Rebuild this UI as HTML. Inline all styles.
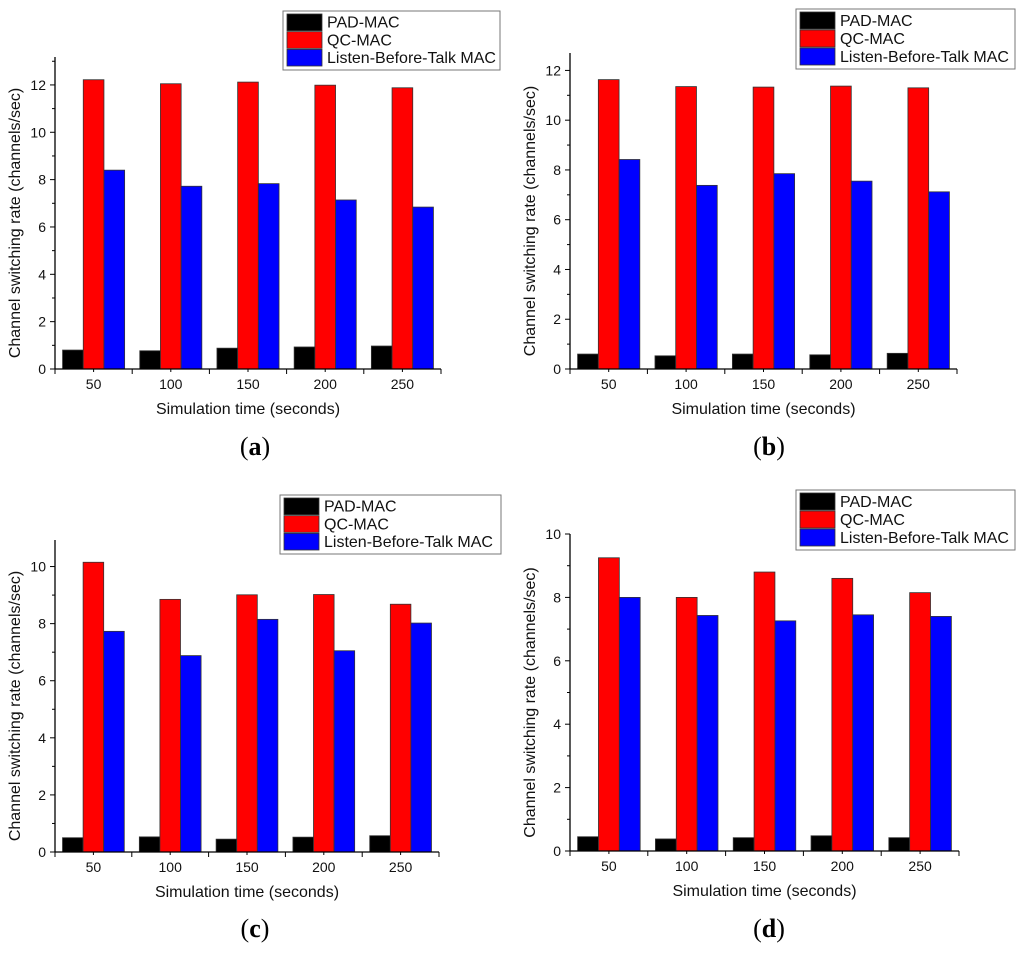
<!DOCTYPE html>
<html><head><meta charset="utf-8"><style>
html,body{margin:0;padding:0;background:#fff;}
svg{display:block;font-family:"Liberation Sans",Arial,sans-serif;}
</style></head><body>
<svg id="fig" width="1024" height="955" viewBox="0 0 1024 955" xmlns="http://www.w3.org/2000/svg"></svg>
<script>
const categories = ["50","100","150","200","250"];
const seriesNames = ["PAD-MAC","QC-MAC","Listen-Before-Talk MAC"];
const seriesColors = ["#000000","#ff0000","#0000ff"];
const padA = [0.80,0.77,0.88,0.93,0.97];
const qcA  = [12.22,12.05,12.12,11.99,11.88];
const lbtA = [8.40,7.72,7.83,7.14,6.84];
const padB = [0.60,0.53,0.60,0.57,0.63];
const qcB  = [11.63,11.35,11.33,11.37,11.30];
const lbtB = [8.42,7.38,7.85,7.55,7.12];
const padC = [0.50,0.53,0.45,0.52,0.57];
const qcC  = [10.15,8.85,9.01,9.02,8.68];
const lbtC = [7.73,6.88,8.15,7.05,8.02];
const padD = [0.45,0.38,0.42,0.48,0.42];
const qcD  = [9.25,8.00,8.80,8.60,8.15];
const lbtD = [8.00,7.43,7.26,7.45,7.40];
const ticksAB = [0,2,4,6,8,10,12];
const ticksCD = [0,2,4,6,8,10];
const panelLabels = ["a","b","c","d"];

const NS="http://www.w3.org/2000/svg";
const svg=document.getElementById('fig');
function mk(tag,attrs,parent){const e=document.createElementNS(NS,tag);for(const k in attrs)e.setAttribute(k,attrs[k]);(parent||svg).appendChild(e);return e;}

const panels=[
 {series:[padA,qcA,lbtA],ticks:ticksAB,x0:55,x1:441,y0:369,top:57,ymax:13.18,lg:[283,11,217,59],cap:[255,455]},
 {series:[padB,qcB,lbtB],ticks:ticksAB,x0:570,x1:957,y0:369,top:53,ymax:12.7,lg:[796,9,219,60],cap:[769,455]},
 {series:[padC,qcC,lbtC],ticks:ticksCD,x0:55,x1:439,y0:852,top:540,ymax:10.93,lg:[280,495,221,59],cap:[255,937]},
 {series:[padD,qcD,lbtD],ticks:ticksCD,x0:570,x1:959,y0:851,top:534,ymax:10,lg:[796,490,219,60],cap:[769,937]}
];

panels.forEach((p,pi)=>{
 const g=mk('g',{});
 
 
 const yS=v=>p.y0-(v/p.ymax)*(p.y0-p.top);
 const band=(p.x1-p.x0)/categories.length;
 const bw=band*0.268;
 const xS=(i,s)=>p.x0+band*i+band/2+(s-1.5)*bw;
 p.series.forEach((vals,s)=>{
  vals.forEach((v,i)=>{
   const r=mk('rect',{x:xS(i,s),y:yS(v),width:bw,height:p.y0-yS(v),fill:seriesColors[s],stroke:'#333','stroke-width':0.8},g);
   
   
  });
 });
 const ya=mk('line',{x1:p.x0,y1:p.top,x2:p.x0,y2:p.y0,stroke:'#000','stroke-width':1.3},g);
 
 const xa=mk('line',{x1:p.x0,y1:p.y0,x2:p.x1,y2:p.y0,stroke:'#000','stroke-width':1.3},g);
 
 p.ticks.forEach((t,k)=>{
  mk('line',{x1:p.x0-5,y1:yS(t),x2:p.x0,y2:yS(t),stroke:'#000','stroke-width':1},g);
  const mid=t+1;
  if(mid<p.ymax) mk('line',{x1:p.x0-3,y1:yS(mid),x2:p.x0,y2:yS(mid),stroke:'#000','stroke-width':1},g);
  const tl=mk('text',{x:p.x0-9,y:yS(t)+5,'text-anchor':'end','font-size':14,fill:'#111'},g);
  tl.textContent=t;
  
 });
 for(let i=0;i<=categories.length;i++){
  const x=p.x0+band*i;
  mk('line',{x1:x,y1:p.y0,x2:x,y2:p.y0+5,stroke:'#000','stroke-width':1},g);
  if(i<categories.length){
   mk('line',{x1:x+band/2,y1:p.y0,x2:x+band/2,y2:p.y0+3,stroke:'#000','stroke-width':1},g);
   const tl=mk('text',{x:x+band/2,y:p.y0+20,'text-anchor':'middle','font-size':14,fill:'#111'},g);
   tl.textContent=categories[i];
   
  }
 }
 const xt=mk('text',{x:(p.x0+p.x1)/2,y:p.y0+45,'text-anchor':'middle','font-size':16,fill:'#111'},g);
 xt.textContent='Simulation time (seconds)';
 
 const yc=(p.top+p.y0)/2+10, yx=p.x0-35;
 const yt=mk('text',{x:yx,y:yc,'text-anchor':'middle','font-size':16,fill:'#111',transform:`rotate(-90 ${yx} ${yc})`},g);
 yt.textContent='Channel switching rate (channels/sec)';
 
 const [lx,ly,lw,lh]=p.lg;
 const lgG=mk('g',{},g);
 
 mk('rect',{x:lx,y:ly,width:lw,height:lh,fill:'#fff',stroke:'#777','stroke-width':1},lgG);
 const rh=(lh-6)/3;
 seriesNames.forEach((n,s)=>{
  const e=mk('g',{},lgG);
  
  mk('rect',{x:lx+4,y:ly+3+s*rh,width:35,height:rh-1,fill:seriesColors[s],stroke:'#333','stroke-width':0.8},e);
  const t=mk('text',{x:lx+44,y:ly+3+s*rh+rh-4,'font-size':16,fill:'#111'},e);
  t.textContent=n;
 });
 const cap=mk('text',{x:p.cap[0],y:p.cap[1],'text-anchor':'middle','font-size':26,'font-family':'"Liberation Serif",serif',fill:'#000'},g);
 cap.innerHTML='(<tspan font-weight="bold">'+panelLabels[pi]+'</tspan>)';
 
});
</script>
</body></html>
